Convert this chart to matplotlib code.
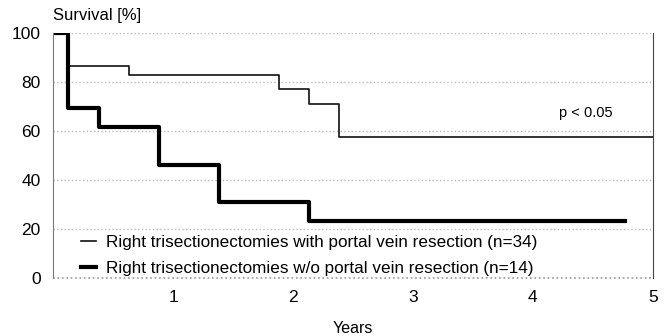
import matplotlib
matplotlib.use("Agg")
import matplotlib.pyplot as plt

plt.rcParams['font.family'] = ['Liberation Sans', 'DejaVu Sans']

# with portal vein resection (n=34)
t_with = [0, 0.12, 0.63, 1.88, 2.13, 2.38, 5.0]
s_with = [100, 86.5, 83, 77, 71, 57.5, 57.5]

# without portal vein resection (n=14)
t_wo = [0, 0.12, 0.38, 0.88, 1.38, 2.13, 4.77]
s_wo = [100, 69.2, 61.5, 46.2, 30.8, 23.1, 23.1]

xticks = [1, 2, 3, 4, 5]
yticks = [0, 20, 40, 60, 80, 100]

fig, ax = plt.subplots()
fig.set_size_inches(6.66, 3.36)
fig.subplots_adjust(left=0.08, right=0.98, bottom=0.173, top=0.902)

ax.step(t_with, s_with, where='post', color='#111111', linewidth=1.2,
        label="Right trisectionectomies with portal vein resection (n=34)")
ax.step(t_wo, s_wo, where='post', color='black', linewidth=3.0,
        label="Right trisectionectomies w/o portal vein resection (n=14)")

ax.set_xlim(0, 5)
ax.set_ylim(0, 100)
ax.set_xticks(xticks)
ax.set_yticks(yticks)
ax.tick_params(length=0, labelsize=12.5, pad=9)
ax.tick_params(axis='y', pad=9)

ax.grid(axis='y', linestyle=':', color='#bbbbbb', linewidth=1.0)
ax.axhline(0, linestyle=':', color='#999999', linewidth=1.2, clip_on=False)
ax.spines['top'].set_visible(False)
ax.spines['bottom'].set_visible(False)
ax.spines['left'].set_color('#777777')
ax.spines['left'].set_linewidth(0.8)
ax.spines['right'].set_color('#444444')
ax.spines['right'].set_linewidth(0.8)

ax.text(0, 104, "Survival [%]", fontsize=12, ha='left', va='bottom')
ax.set_xlabel("Years", fontsize=11.5, labelpad=11)
ax.text(4.22, 67.5, "p < 0.05", fontsize=10.5, ha='left', va='center')

ax.legend(loc='lower left', bbox_to_anchor=(0.02, -0.055), frameon=False,
          fontsize=12.3, handlelength=0.9, handletextpad=0.6, labelspacing=0.62)

plt.savefig("out.png", dpi=100)
